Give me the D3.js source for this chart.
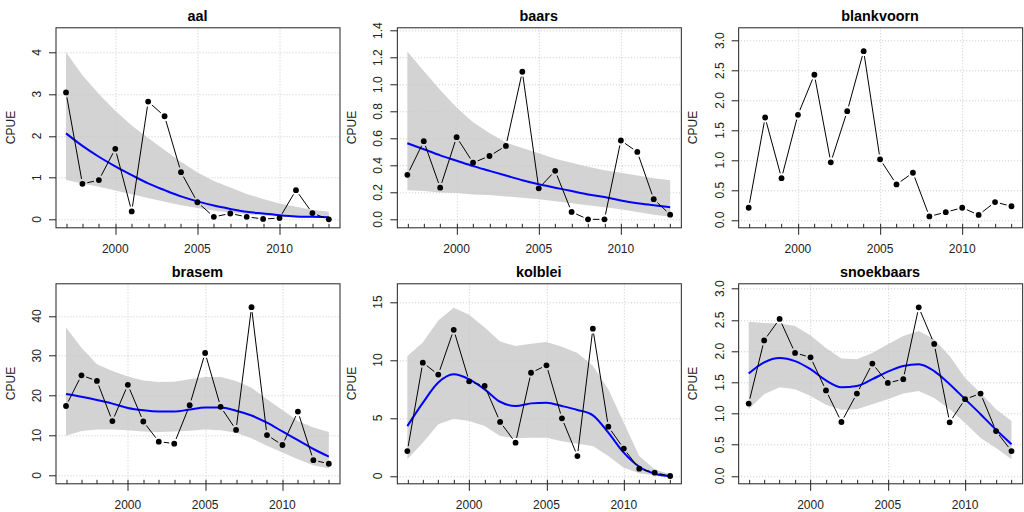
<!DOCTYPE html>
<html>
<head>
<meta charset="utf-8">
<script src="https://cdn.jsdelivr.net/npm/d3@7"></script>
<style>
  html, body { margin: 0; padding: 0; background: #fff; }
  svg { display: block; font-family: "Liberation Sans", Arial, sans-serif; }
</style>
</head>
<body>
<svg id="chart" width="1024" height="512"></svg>
<script>
// ---------------- data ----------------
const yearsA = [1997,1998,1999,2000,2001,2002,2003,2004,2005,2006,2007,2008,2009,2010,2011,2012,2013];
const yearsB = [1996,1997,1998,1999,2000,2001,2002,2003,2004,2005,2006,2007,2008,2009,2010,2011,2012,2013];
const xLabelTicks = [2000, 2005, 2010];

const aalCPUE  = [3.04,0.85,0.94,1.69,0.19,2.82,2.47,1.13,0.41,0.06,0.14,0.06,0.01,0.03,0.70,0.15,0.00];
const aalFit   = [2.06,1.76,1.50,1.27,1.06,0.86,0.70,0.55,0.43,0.33,0.25,0.18,0.14,0.10,0.07,0.06,0.05];
const aalLower = [0.94,0.86,0.78,0.69,0.60,0.51,0.42,0.34,0.27,0.21,0.16,0.12,0.09,0.06,0.05,0.04,0.03];
const aalUpper = [4.00,3.45,3.00,2.60,2.25,1.95,1.66,1.38,1.12,0.92,0.76,0.61,0.49,0.38,0.30,0.23,0.18];
const aalTicks = [0,1,2,3,4];

const baarsCPUE  = [0.33,0.58,0.235,0.61,0.42,0.47,0.545,1.095,0.23,0.36,0.055,0.0,0.0,0.585,0.50,0.15,0.035];
const baarsFit   = [0.565,0.52,0.475,0.435,0.395,0.36,0.325,0.29,0.26,0.235,0.21,0.185,0.165,0.14,0.12,0.105,0.09];
const baarsLower = [0.215,0.21,0.20,0.195,0.185,0.18,0.17,0.16,0.15,0.135,0.12,0.105,0.09,0.075,0.055,0.035,0.02];
const baarsUpper = [1.245,1.10,0.96,0.83,0.72,0.64,0.57,0.53,0.49,0.45,0.42,0.39,0.365,0.345,0.325,0.305,0.29];
const baarsTicks = [0,0.2,0.4,0.6,0.8,1.0,1.2,1.4];

const blankvoornCPUE = [0.205,1.715,0.70,1.76,2.43,0.965,1.82,2.825,1.015,0.595,0.79,0.06,0.13,0.205,0.085,0.30,0.23];
const blankvoornTicks = [0,0.5,1.0,1.5,2.0,2.5,3.0];

const brasemCPUE  = [17.4,25.1,23.7,13.6,22.7,13.5,8.45,7.95,17.6,30.7,17.2,11.4,42.2,10.1,7.6,16.0,3.8,2.9];
const brasemFit   = [20.4,19.7,18.9,18.0,16.9,16.3,16.0,16.0,16.5,17.0,17.0,16.2,15.0,13.2,11.0,8.8,6.6,4.7];
const brasemLower = [9.9,11.1,11.5,11.5,11.3,11.0,10.9,11.0,11.2,11.5,11.3,10.7,9.3,7.4,5.7,4.0,2.5,1.7];
const brasemUpper = [37.1,32.0,27.9,26.2,24.8,23.8,23.4,23.5,24.1,24.7,24.7,23.7,22.0,19.1,16.4,13.6,12.0,10.9];
const brasemTicks = [0,10,20,30,40];

const kolbleiCPUE  = [2.15,9.77,8.74,12.6,8.16,7.76,4.66,2.87,8.9,9.54,4.97,1.72,12.7,4.25,2.36,0.63,0.29,0.0];
const kolbleiFit   = [4.3,6.3,8.05,8.76,8.33,7.47,6.4,6.03,6.26,6.32,6.03,5.69,5.23,3.74,2.01,0.8,0.2,0.0];
const kolbleiLower = [1.44,2.87,4.45,4.94,4.74,4.3,3.45,3.25,3.3,3.3,3.0,2.79,2.59,1.72,0.72,0.23,0.06,0.0];
const kolbleiUpper = [10.34,11.5,13.4,14.5,13.9,12.8,11.6,11.2,11.4,11.55,11.15,10.6,9.5,7.47,4.6,1.72,0.57,0.14];
const kolbleiTicks = [0,5,10,15];

const snoekbaarsCPUE  = [1.16,2.17,2.515,1.97,1.90,1.37,0.865,1.32,1.80,1.49,1.55,2.70,2.115,0.86,1.23,1.32,0.72,0.40];
const snoekbaarsFit   = [1.64,1.82,1.89,1.84,1.71,1.53,1.42,1.44,1.55,1.67,1.76,1.79,1.68,1.47,1.23,0.99,0.74,0.51];
const snoekbaarsLower = [1.07,1.31,1.42,1.39,1.28,1.14,1.06,1.07,1.15,1.23,1.32,1.36,1.25,1.07,0.85,0.61,0.45,0.27];
const snoekbaarsUpper = [2.47,2.45,2.44,2.40,2.25,2.05,1.88,1.87,1.97,2.11,2.24,2.32,2.19,1.92,1.57,1.33,1.07,0.88];
const snoekbaarsTicks = [0,0.5,1.0,1.5,2.0,2.5,3.0];

// ---------------- panel table ----------------
const fmt0 = d3.format("d"), fmt1 = d3.format(".1f");
const panels = [
  {title:"aal", years:yearsA, cpue:aalCPUE, fit:aalFit, lo:aalLower, hi:aalUpper,
   xDomain:[1996.36,2013.64], yDomain:[-0.2,4.6], yTicks:aalTicks, fmt:fmt0},
  {title:"baars", years:yearsA, cpue:baarsCPUE, fit:baarsFit, lo:baarsLower, hi:baarsUpper,
   xDomain:[1996.36,2013.64], yDomain:[-0.062,1.425], yTicks:baarsTicks, fmt:fmt1},
  {title:"blankvoorn", years:yearsA, cpue:blankvoornCPUE, fit:null, lo:null, hi:null,
   xDomain:[1996.36,2013.64], yDomain:[-0.129,3.224], yTicks:blankvoornTicks, fmt:fmt1},
  {title:"brasem", years:yearsB, cpue:brasemCPUE, fit:brasemFit, lo:brasemLower, hi:brasemUpper,
   xDomain:[1995.32,2013.68], yDomain:[-2.11,48.2], yTicks:brasemTicks, fmt:fmt0},
  {title:"kolblei", years:yearsB, cpue:kolbleiCPUE, fit:kolbleiFit, lo:kolbleiLower, hi:kolbleiUpper,
   xDomain:[1995.32,2013.68], yDomain:[-0.664,16.61], yTicks:kolbleiTicks, fmt:fmt0},
  {title:"snoekbaars", years:yearsB, cpue:snoekbaarsCPUE, fit:snoekbaarsFit, lo:snoekbaarsLower, hi:snoekbaarsUpper,
   xDomain:[1995.32,2013.68], yDomain:[-0.123,3.085], yTicks:snoekbaarsTicks, fmt:fmt1}
];

// ---------------- drawing ----------------
const svg = d3.select("#chart");
const W = 1024, H = 512;
const pw = W / 3, ph = H / 2;
const m = {left: 55.5, right: 2, top: 27.3, bottom: 28.3};
const iw = pw - m.left - m.right, ih = ph - m.top - m.bottom;
const GAP = 5;

panels.forEach((p, i) => {
  const col = i % 3, row = Math.floor(i / 3);
  const g = svg.append("g")
    .attr("transform", `translate(${col * pw + m.left},${row * ph + m.top})`);

  const x = d3.scaleLinear().domain(p.xDomain).range([0, iw]);
  const y = d3.scaleLinear().domain(p.yDomain).range([ih, 0]);

  // confidence band
  if (p.lo) {
    const area = d3.area()
      .x((d, k) => x(p.years[k]))
      .y0((d, k) => y(p.lo[k]))
      .y1((d, k) => y(p.hi[k]));
    g.append("path").datum(p.years).attr("d", area)
      .attr("fill", "#d3d3d3").attr("stroke", "none");
  }

  // grid
  const grid = g.append("g").attr("stroke", "#c8c8c8").attr("stroke-dasharray", "1,2").attr("stroke-width", 1);
  grid.selectAll("line.h").data(p.yTicks).join("line")
    .attr("x1", 0).attr("x2", iw)
    .attr("y1", d => Math.round(y(d)) + 0.5).attr("y2", d => Math.round(y(d)) + 0.5);
  grid.selectAll("line.v").data(xLabelTicks).join("line")
    .attr("y1", 0).attr("y2", ih)
    .attr("x1", d => Math.round(x(d)) + 0.5).attr("x2", d => Math.round(x(d)) + 0.5);

  // fitted line
  if (p.fit) {
    const line = d3.line().x((d, k) => x(p.years[k])).y(d => y(d)).curve(d3.curveMonotoneX);
    g.append("path").datum(p.fit).attr("d", line)
      .attr("fill", "none").attr("stroke", "#0000ff").attr("stroke-width", 2);
  }

  // type="b" connecting segments with gaps
  const pts = p.cpue.map((v, k) => [x(p.years[k]), y(v)]);
  for (let k = 0; k < pts.length - 1; k++) {
    const [x1, y1] = pts[k], [x2, y2] = pts[k + 1];
    const dx = x2 - x1, dy = y2 - y1, L = Math.hypot(dx, dy);
    if (L <= 2 * GAP) continue;
    const ux = dx / L, uy = dy / L;
    g.append("line")
      .attr("x1", x1 + ux * GAP).attr("y1", y1 + uy * GAP)
      .attr("x2", x2 - ux * GAP).attr("y2", y2 - uy * GAP)
      .attr("stroke", "#000").attr("stroke-width", 1);
  }
  g.selectAll("circle.pt").data(p.cpue).join("circle")
    .attr("cx", (d, k) => x(p.years[k])).attr("cy", d => y(d))
    .attr("r", 2.9).attr("fill", "#000");

  // box
  g.append("rect").attr("x", 0.5).attr("y", 0.5).attr("width", Math.round(iw)).attr("height", Math.round(ih))
    .attr("fill", "none").attr("stroke", "#222").attr("stroke-width", 1);

  // x axis: inward minor ticks at each year, outward major ticks at labels
  const xa = g.append("g").attr("stroke", "#222").attr("stroke-width", 1);
  const by = Math.round(ih) + 0.5;
  xa.selectAll("line.minor").data(p.years).join("line")
    .attr("x1", d => Math.round(x(d)) + 0.5).attr("x2", d => Math.round(x(d)) + 0.5)
    .attr("y1", by).attr("y2", by - 4);
  xa.selectAll("line.major").data(xLabelTicks).join("line")
    .attr("x1", d => Math.round(x(d)) + 0.5).attr("x2", d => Math.round(x(d)) + 0.5)
    .attr("y1", by).attr("y2", by + 7);
  g.selectAll("text.xl").data(xLabelTicks).join("text")
    .attr("x", d => x(d)).attr("y", ih + 25.5)
    .attr("text-anchor", "middle").attr("font-size", 12).attr("fill", "#222")
    .text(d => d);

  // y axis
  g.append("g").selectAll("line").data(p.yTicks).join("line")
    .attr("x1", 0.5).attr("x2", -6.5)
    .attr("y1", d => Math.round(y(d)) + 0.5).attr("y2", d => Math.round(y(d)) + 0.5)
    .attr("stroke", "#222");
  g.selectAll("text.yl").data(p.yTicks).join("text")
    .attr("transform", d => `translate(${-14.5},${y(d)}) rotate(-90)`)
    .attr("text-anchor", "middle").attr("font-size", 12).attr("fill", "#222")
    .text(d => p.fmt(d));

  // y label
  g.append("text")
    .attr("transform", `translate(${-41},${ih / 2}) rotate(-90)`)
    .attr("text-anchor", "middle").attr("font-size", 12).attr("fill", "#222")
    .text("CPUE");

  // title
  g.append("text").attr("x", iw / 2).attr("y", -6.5)
    .attr("text-anchor", "middle").attr("font-size", 14.4).attr("font-weight", "bold").attr("fill", "#000")
    .text(p.title);
});
</script>
</body>
</html>
